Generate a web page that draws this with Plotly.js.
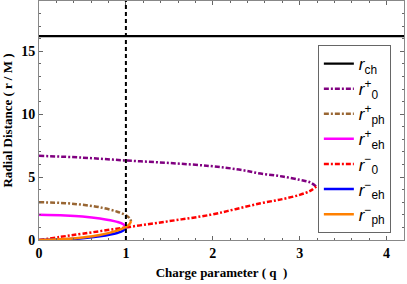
<!DOCTYPE html>
<html><head><meta charset="utf-8">
<script src="https://cdn.plot.ly/plotly-3.0.1.min.js"></script>
<style>html,body{margin:0;padding:0;background:#fff}#c{width:407px;height:284px}</style>
</head><body><div id="c"></div>
<script>
// Data
const qCh = [0, 4.2];
const rCh = [16.2, 16.2];

const qP0 = [0, 0.5, 1.0, 1.5, 1.97, 2.3, 2.55, 2.8, 3.0, 3.12, 3.19];
const rP0 = [6.69, 6.55, 6.32, 6.12, 5.88, 5.6, 5.28, 5.05, 4.78, 4.58, 4.25];

const qM0 = [0, 0.25, 0.5, 1.0, 1.5, 1.97, 2.26, 2.55, 2.8, 3.0, 3.12, 3.19];
const rM0 = [0, 0.25, 0.5, 1.0, 1.5, 2.0, 2.45, 2.92, 3.25, 3.59, 3.9, 4.25];

const qPph = [0, 0.3, 0.5, 0.7, 0.9, 1.0, 1.04, 1.06];
const rPph = [3.0, 2.93, 2.8, 2.6, 2.25, 1.97, 1.75, 1.5];

const qMph = [0, 0.3, 0.5, 0.7, 0.9, 1.0, 1.04, 1.06];
const rMph = [0, 0.07, 0.2, 0.4, 0.75, 1.03, 1.25, 1.5];

const qPeh = [0, 0.3, 0.5, 0.7, 0.9, 0.97, 1.0];
const rPeh = [2.0, 1.95, 1.87, 1.71, 1.44, 1.25, 1.0];

const qMeh = [0, 0.3, 0.5, 0.7, 0.9, 0.97, 1.0];
const rMeh = [0, 0.05, 0.13, 0.29, 0.56, 0.75, 1.0];

const qCrit = 1;
const xRange = [0, 4.2];
const yRange = [0, 19];
const xTicks = [0, 1, 2, 3, 4];
const xTickLabels = ['0', '1', '2', '3', '4'];
const yTicks = [0, 5, 10, 15];
const yTickLabels = ['0', '5', '10', '15'];

const names = ['<i>r</i><sub>ch</sub>', '<i>r</i><sup>+</sup><sub>0</sub>', '<i>r</i><sup>+</sup><sub>ph</sub>',
  '<i>r</i><sup>+</sup><sub>eh</sub>', '<i>r</i><sup>−</sup><sub>0</sub>', '<i>r</i><sup>−</sup><sub>eh</sub>', '<i>r</i><sup>−</sup><sub>ph</sub>'];

const dd = '5px,2px,2px,2px';
const traces = [
  {x: qCh, y: rCh, name: names[0], line: {color: '#000000', width: 2.2}},
  {x: qP0, y: rP0, name: names[1], line: {color: '#800080', width: 2.5, dash: dd}},
  {x: qPph, y: rPph, name: names[2], line: {color: '#996633', width: 2.5, dash: dd}},
  {x: qPeh, y: rPeh, name: names[3], line: {color: '#ff00ff', width: 2.5}},
  {x: qM0, y: rM0, name: names[4], line: {color: '#ff0000', width: 2.5, dash: dd}},
  {x: qMeh, y: rMeh, name: names[5], line: {color: '#0000ff', width: 2.5}},
  {x: qMph, y: rMph, name: names[6], line: {color: '#ff8000', width: 2.5}}
].map(t => Object.assign({type: 'scatter', mode: 'lines'}, t));
traces.forEach(t => t.line.shape = 'spline');

const bold = a => a.map(s => '<b>' + s + '</b>');
const tickFont = {family: 'Liberation Serif, serif', size: 14, color: '#000'};
const axCommon = {
  showgrid: false, zeroline: false, showline: true, mirror: 'ticks',
  linecolor: '#888', linewidth: 1, ticks: 'inside', ticklen: 4, tickcolor: '#666',
  tickfont: tickFont, tickmode: 'array'
};

const layout = {
  width: 407, height: 284,
  margin: {l: 39, r: 3, t: 1, b: 44},
  paper_bgcolor: '#fff', plot_bgcolor: '#fff',
  showlegend: true,
  legend: {
    x: 0.764, y: 0.816, xanchor: 'left', yanchor: 'top',
    bgcolor: '#fff', bordercolor: '#666', borderwidth: 1,
    font: {family: 'Liberation Sans, Arial, sans-serif', size: 17, color: '#000'},
    tracegroupgap: 0, itemwidth: 30
  },
  xaxis: Object.assign({}, axCommon, {
    range: xRange, tickvals: xTicks, ticktext: bold(xTickLabels),
    minor: {dtick: 0.2, tick0: 0, ticks: 'inside', ticklen: 2, tickcolor: '#666'},
    title: {text: '<b>Charge parameter ( q  )</b>', font: {family: 'Liberation Serif, serif', size: 13, color: '#000'}, standoff: 8}
  }),
  yaxis: Object.assign({}, axCommon, {
    range: yRange, tickvals: yTicks, ticktext: bold(yTickLabels),
    minor: {dtick: 1, tick0: 0, ticks: 'inside', ticklen: 2, tickcolor: '#666'},
    title: {text: '<b>Radial Distance ( r / M )</b>', font: {family: 'Liberation Serif, serif', size: 13, color: '#000'}, standoff: 6}
  }),
  shapes: [{type: 'line', xref: 'x', yref: 'paper', x0: qCrit, x1: qCrit, y0: 0, y1: 1,
    line: {color: '#000', width: 2, dash: '4px,3px'}}]
};

Plotly.newPlot('c', traces, layout, {displayModeBar: false, staticPlot: true});
</script></body></html>
